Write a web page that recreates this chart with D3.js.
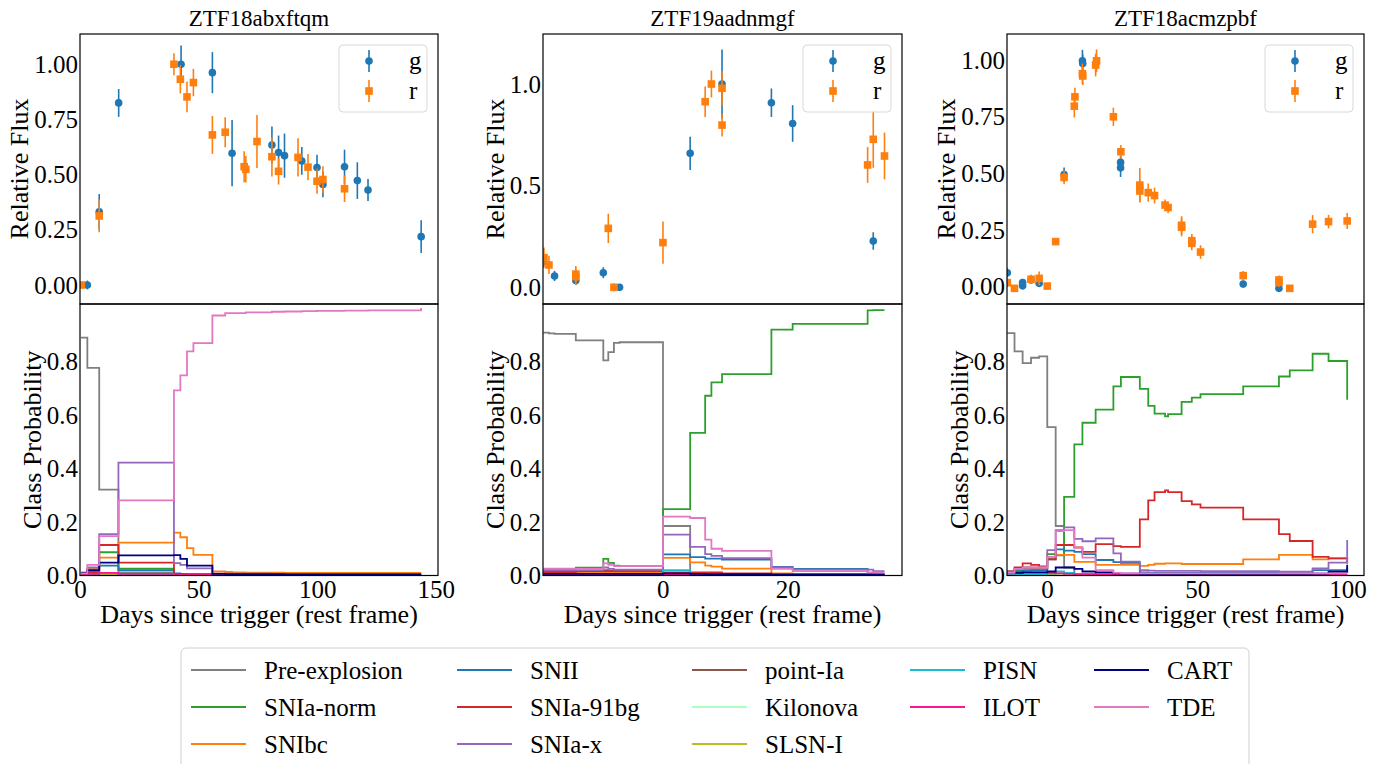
<!DOCTYPE html>
<html><head><meta charset="utf-8">
<script src="https://cdn.jsdelivr.net/npm/d3@7"></script>
<style>body{margin:0;background:#fff} svg text{font-family:"Liberation Serif","DejaVu Serif",serif;}</style>
</head><body><svg id="c" width="1384" height="764"></svg>
<script>
const classNames = ["Pre-explosion","SNIa-norm","SNIbc","SNII","SNIa-91bg","SNIa-x","point-Ia","Kilonova","SLSN-I","PISN","ILOT","CART","TDE"];
const classColors = ["#7f7f7f","#2ca02c","#ff7f0e","#1f77b4","#d62728","#9467bd","#8c564b","#aaffc3","#bcbd22","#17becf","#ff1493","#000080","#e377c2"];
const titles = ["ZTF18abxftqm","ZTF19aadnmgf","ZTF18acmzpbf"];
const fluxTicks = [[0,0.25,0.5,0.75,1],[0,0.5,1],[0,0.25,0.5,0.75,1]];
const probTicks = [0,0.2,0.4,0.6,0.8];
const dayTicks = [[0,50,100,150],[0,20],[0,50,100]];

// ---- Panel 1: ZTF18abxftqm light curve ----
const p1gDays = [3.1,8.1,16.3,42.6,55.8,64.1,80.9,83.7,86.2,93.5,99.9,102.4,111.5,116.9,121.4,143.8];
const p1gFlux = [0.0,0.332,0.825,1.0,0.962,0.597,0.634,0.600,0.586,0.562,0.532,0.455,0.536,0.473,0.430,0.219];
const p1gErr  = [0.02,0.08,0.063,0.085,0.093,0.15,0.084,0.077,0.10,0.063,0.058,0.058,0.077,0.083,0.05,0.074];
const p1rDays = [0.6,8.1,39.6,42.3,45.1,47.8,55.8,61.2,69.2,69.9,74.6,80.9,83.7,91.9,96.1,99.9,102.4,111.5];
const p1rFlux = [0.0,0.313,1.0,0.932,0.852,0.917,0.68,0.692,0.536,0.524,0.65,0.581,0.515,0.578,0.534,0.47,0.478,0.436];
const p1rErr  = [0.01,0.074,0.05,0.064,0.07,0.062,0.086,0.068,0.07,0.06,0.12,0.09,0.06,0.087,0.06,0.057,0.06,0.06];

// ---- Panel 2: ZTF19aadnmgf light curve ----
const p2gDays = [-19.1,-17.3,-13.9,-9.5,-6.9,4.4,9.5,17.4,20.8,33.7];
const p2gFlux = [0.126,0.056,0.033,0.072,0.0,0.659,1.0,0.908,0.806,0.228];
const p2gErr  = [0.03,0.025,0.02,0.027,0.01,0.082,0.17,0.07,0.09,0.043];
const p2rDays = [-19.0,-18.2,-13.9,-13.9,-8.7,-7.8,0.05,6.8,7.8,9.5,9.5,32.8,33.7,35.5];
const p2rFlux = [0.146,0.11,0.052,0.065,0.29,0.0,0.22,0.913,1.0,0.979,0.798,0.602,0.728,0.646];
const p2rErr  = [0.05,0.045,0.04,0.04,0.072,0.02,0.104,0.075,0.066,0.085,0.056,0.088,0.14,0.115];

// ---- Panel 3: ZTF18acmzpbf light curve ----
const p3gDays = [-13.2,-8.1,-8.1,-5.3,-2.6,5.7,11.8,11.9,24.5,24.5,65.3,77.2];
const p3gFlux = [0.063,0.005,0.02,0.031,0.016,0.495,0.997,0.985,0.549,0.525,0.013,-0.006];
const p3gErr  = [0.02,0.015,0.015,0.015,0.015,0.032,0.048,0.04,0.03,0.04,0.015,0.015];
const p3rDays = [-13.2,-10.8,-5.3,-2.6,0.1,2.9,5.7,9.1,9.3,11.8,11.9,16.2,16.5,22.1,24.6,30.9,30.9,33.7,35.8,39.3,40.3,44.8,44.8,48.2,48.2,51.1,65.3,77.2,77.2,80.8,88.4,93.7,99.9];
const p3rFlux = [0.019,-0.006,0.034,0.038,0.004,0.2,0.483,0.797,0.838,0.94,0.93,0.978,0.997,0.75,0.596,0.449,0.423,0.416,0.403,0.361,0.35,0.263,0.272,0.192,0.204,0.154,0.05,0.031,0.02,-0.006,0.277,0.288,0.291];
const p3rErr  = [0.02,0.01,0.02,0.03,0.01,0.015,0.03,0.05,0.04,0.045,0.04,0.05,0.05,0.04,0.03,0.075,0.05,0.04,0.035,0.025,0.025,0.04,0.04,0.03,0.03,0.03,0.02,0.02,0.02,0.01,0.04,0.03,0.035];

// ---- Class probabilities (step curves) ----
const p1Times = [0.4,3.1,8.1,16.2,39.6,42.3,45.1,47.8,55.8,61.2,64.1,69.9,74.6,80.9,86.2,93.5,99.9,111.5,121.4,143.8];
const p1Prob = {
  "Pre-explosion":[0.889,0.776,0.321,0.012,0.004,0.003,0.003,0.003,0.002,0.002,0.002,0.002,0.002,0.002,0.002,0.002,0.002,0.002,0.002,0.002],
  "SNIa-norm":[0.008,0.015,0.087,0.026,0.004,0.003,0.003,0.003,0.002,0.002,0.002,0.002,0.002,0.002,0.002,0.002,0.002,0.002,0.002,0.002],
  "SNIbc":[0.012,0.025,0.067,0.123,0.16,0.143,0.102,0.077,0.015,0.013,0.012,0.011,0.011,0.011,0.01,0.01,0.01,0.01,0.01,0.01],
  "SNII":[0.01,0.015,0.037,0.02,0.008,0.006,0.005,0.005,0.004,0.004,0.004,0.004,0.004,0.004,0.004,0.004,0.004,0.004,0.004,0.004],
  "SNIa-91bg":[0.005,0.012,0.114,0.048,0.005,0.004,0.004,0.004,0.003,0.003,0.003,0.003,0.003,0.003,0.003,0.003,0.003,0.003,0.003,0.003],
  "SNIa-x":[0.01,0.03,0.155,0.422,0.046,0.04,0.027,0.027,0.007,0.007,0.007,0.007,0.007,0.006,0.006,0.006,0.006,0.006,0.006,0.006],
  "point-Ia":[0.003,0.003,0.004,0.003,0.001,0.001,0.001,0.001,0.001,0.001,0.001,0.001,0.001,0.001,0.001,0.001,0.001,0.001,0.001,0.001],
  "Kilonova":[0.002,0.002,0.002,0.002,0.001,0.001,0.001,0.001,0.001,0.001,0.001,0.001,0.001,0.001,0.001,0.001,0.001,0.001,0.001,0.001],
  "SLSN-I":[0.002,0.002,0.003,0.002,0.001,0.001,0.001,0.001,0.001,0.001,0.001,0.001,0.001,0.001,0.001,0.001,0.001,0.001,0.001,0.001],
  "PISN":[0.004,0.005,0.01,0.005,0.002,0.002,0.002,0.002,0.002,0.002,0.002,0.002,0.002,0.002,0.002,0.002,0.002,0.002,0.002,0.002],
  "ILOT":[0.004,0.006,0.01,0.006,0.002,0.002,0.002,0.002,0.002,0.002,0.002,0.002,0.002,0.002,0.002,0.002,0.002,0.002,0.002,0.002],
  "CART":[0.01,0.02,0.048,0.075,0.076,0.062,0.037,0.037,0.006,0.005,0.005,0.005,0.005,0.005,0.004,0.004,0.004,0.004,0.004,0.004],
  "TDE":[0.008,0.04,0.147,0.281,0.692,0.748,0.838,0.869,0.972,0.981,0.981,0.984,0.984,0.986,0.987,0.988,0.989,0.99,0.991,1.0]
};
const p2Times = [-19.1,-18.2,-17.3,-13.9,-9.5,-8.7,-7.8,-6.9,0.05,4.4,6.8,7.8,9.5,17.4,20.8,32.8,33.7,35.5];
const p2Prob = {
  "Pre-explosion":[0.908,0.905,0.903,0.879,0.804,0.835,0.87,0.872,0.185,0.003,0.002,0.002,0.002,0.001,0.001,0.001,0.001,0.001],
  "SNIa-norm":[0.02,0.02,0.02,0.029,0.062,0.047,0.037,0.035,0.248,0.533,0.672,0.722,0.753,0.919,0.941,0.991,0.992,0.992],
  "SNIbc":[0.01,0.01,0.01,0.012,0.012,0.012,0.012,0.012,0.066,0.049,0.037,0.033,0.026,0.008,0.006,0.004,0.004,0.004],
  "SNII":[0.015,0.015,0.015,0.016,0.02,0.018,0.017,0.016,0.079,0.069,0.063,0.063,0.059,0.032,0.025,0.006,0.005,0.005],
  "SNIa-91bg":[0.012,0.012,0.012,0.016,0.016,0.016,0.016,0.016,0.012,0.012,0.012,0.012,0.008,0.006,0.005,0.004,0.004,0.004],
  "SNIa-x":[0.02,0.02,0.02,0.02,0.03,0.025,0.022,0.022,0.153,0.107,0.08,0.073,0.065,0.03,0.022,0.022,0.016,0.016],
  "point-Ia":[0.003,0.003,0.003,0.003,0.003,0.003,0.003,0.003,0.003,0.002,0.002,0.002,0.002,0.001,0.001,0.001,0.001,0.001],
  "Kilonova":[0.002,0.002,0.002,0.002,0.002,0.002,0.002,0.002,0.002,0.001,0.001,0.001,0.001,0.001,0.001,0.001,0.001,0.001],
  "SLSN-I":[0.002,0.002,0.002,0.002,0.002,0.002,0.002,0.002,0.003,0.002,0.002,0.002,0.002,0.001,0.001,0.001,0.001,0.001],
  "PISN":[0.005,0.005,0.005,0.005,0.005,0.005,0.005,0.005,0.02,0.005,0.004,0.004,0.004,0.003,0.003,0.003,0.003,0.003],
  "ILOT":[0.004,0.004,0.004,0.004,0.004,0.004,0.004,0.004,0.005,0.004,0.003,0.003,0.003,0.002,0.002,0.002,0.002,0.002],
  "CART":[0.006,0.006,0.006,0.006,0.006,0.006,0.006,0.006,0.008,0.006,0.005,0.005,0.005,0.003,0.003,0.003,0.003,0.003],
  "TDE":[0.026,0.026,0.026,0.025,0.045,0.04,0.035,0.035,0.22,0.215,0.134,0.1,0.092,0.025,0.016,0.012,0.012,0.012]
};
const p3Times = [-13.2,-10.8,-8.1,-5.3,-2.6,0.1,2.9,5.7,9.1,11.8,16.2,22.1,24.6,30.9,33.7,35.8,39.3,40.3,44.8,48.2,51.1,65.3,77.2,80.8,88.4,93.7,99.9];
const p3Prob = {
  "Pre-explosion":[0.906,0.838,0.794,0.814,0.819,0.555,0.185,0.03,0.005,0.004,0.003,0.003,0.003,0.002,0.002,0.002,0.002,0.002,0.002,0.002,0.002,0.002,0.002,0.002,0.002,0.002,0.002],
  "SNIa-norm":[0.015,0.02,0.025,0.025,0.025,0.08,0.075,0.294,0.49,0.571,0.62,0.707,0.742,0.698,0.634,0.605,0.595,0.603,0.649,0.665,0.678,0.707,0.744,0.767,0.829,0.802,0.657],
  "SNIbc":[0.015,0.025,0.03,0.025,0.025,0.064,0.077,0.077,0.051,0.051,0.04,0.04,0.04,0.036,0.04,0.044,0.045,0.045,0.043,0.043,0.043,0.06,0.077,0.077,0.06,0.064,0.067],
  "SNII":[0.01,0.015,0.018,0.02,0.02,0.06,0.098,0.093,0.088,0.08,0.058,0.05,0.047,0.012,0.01,0.01,0.01,0.01,0.01,0.01,0.01,0.01,0.01,0.012,0.02,0.02,0.03],
  "SNIa-91bg":[0.015,0.03,0.045,0.04,0.034,0.06,0.114,0.114,0.105,0.088,0.117,0.11,0.107,0.21,0.281,0.312,0.318,0.312,0.278,0.266,0.254,0.21,0.155,0.129,0.07,0.064,0.045],
  "SNIa-x":[0.015,0.025,0.03,0.03,0.03,0.095,0.17,0.18,0.137,0.128,0.139,0.083,0.052,0.02,0.018,0.017,0.017,0.017,0.017,0.017,0.016,0.016,0.014,0.014,0.027,0.048,0.133],
  "point-Ia":[0.003,0.003,0.003,0.003,0.003,0.004,0.005,0.004,0.003,0.003,0.002,0.002,0.002,0.002,0.002,0.002,0.002,0.002,0.002,0.002,0.002,0.002,0.002,0.002,0.002,0.002,0.002],
  "Kilonova":[0.002,0.002,0.002,0.002,0.002,0.002,0.003,0.002,0.002,0.002,0.001,0.001,0.001,0.001,0.001,0.001,0.001,0.001,0.001,0.001,0.001,0.001,0.001,0.001,0.001,0.001,0.001],
  "SLSN-I":[0.002,0.002,0.002,0.002,0.002,0.004,0.008,0.01,0.005,0.004,0.003,0.002,0.002,0.002,0.002,0.002,0.002,0.002,0.002,0.002,0.002,0.002,0.002,0.002,0.002,0.002,0.002],
  "PISN":[0.005,0.005,0.005,0.005,0.005,0.008,0.015,0.01,0.006,0.005,0.004,0.003,0.003,0.003,0.003,0.003,0.003,0.003,0.003,0.003,0.003,0.003,0.003,0.003,0.003,0.003,0.003],
  "ILOT":[0.008,0.01,0.012,0.012,0.012,0.01,0.008,0.006,0.004,0.004,0.003,0.003,0.003,0.002,0.002,0.002,0.002,0.002,0.002,0.002,0.002,0.002,0.002,0.002,0.002,0.002,0.002],
  "CART":[0.01,0.01,0.012,0.012,0.012,0.015,0.03,0.03,0.025,0.015,0.012,0.008,0.007,0.006,0.006,0.006,0.006,0.006,0.006,0.006,0.006,0.006,0.006,0.006,0.007,0.014,0.04],
  "TDE":[0.01,0.025,0.03,0.03,0.03,0.07,0.166,0.17,0.103,0.067,0.02,0.01,0.008,0.008,0.008,0.008,0.008,0.008,0.008,0.008,0.008,0.008,0.008,0.008,0.008,0.008,0.008]
};

const panels = [
  {g:[p1gDays,p1gFlux,p1gErr], r:[p1rDays,p1rFlux,p1rErr], t:p1Times, p:p1Prob},
  {g:[p2gDays,p2gFlux,p2gErr], r:[p2rDays,p2rFlux,p2rErr], t:p2Times, p:p2Prob},
  {g:[p3gDays,p3gFlux,p3gErr], r:[p3rDays,p3rFlux,p3rErr], t:p3Times, p:p3Prob}
];

// ---- layout ----
const FONT = "Liberation Serif";
const panelX = [[80,438],[543,902],[1007,1364]];
const topY = [34,304], botY = [304,575.5];
const xDomains = [[0,150.9],[-19.15,38.3],[-13.3,105.5]];
const fluxDomains = [[-0.086,1.137],[-0.082,1.246],[-0.075,1.115]];
const fluxFmt = [".2f",".1f",".2f"];
const gColor = "#1f77b4", rColor = "#ff7f0e";

const svg = d3.select("#c");
svg.append("rect").attr("width",1384).attr("height",764).attr("fill","#fff");
const defs = svg.append("defs");

function drawErr(g, x, y, days, flux, err, color, shape){
  const data = days.map((d,i)=>({d, f:flux[i], e:err[i]}));
  g.selectAll(null).data(data).enter().append("line")
    .attr("x1",p=>x(p.d)).attr("x2",p=>x(p.d))
    .attr("y1",p=>y(p.f-p.e)).attr("y2",p=>y(p.f+p.e))
    .attr("stroke",color).attr("stroke-width",1.6);
  if(shape==="circle"){
    g.selectAll(null).data(data).enter().append("circle")
      .attr("cx",p=>x(p.d)).attr("cy",p=>y(p.f)).attr("r",3.8).attr("fill",color);
  } else {
    const s=7.6;
    g.selectAll(null).data(data).enter().append("rect")
      .attr("x",p=>x(p.d)-s/2).attr("y",p=>y(p.f)-s/2).attr("width",s).attr("height",s).attr("fill",color);
  }
}

function styleAxis(ax){
  ax.attr("font-family",FONT).attr("font-size",25);
  ax.select(".domain").remove();
  ax.selectAll("text").attr("fill","#000");
}

panels.forEach((P,i)=>{
  const [x0,x1] = panelX[i];
  const x = d3.scaleLinear().domain(xDomains[i]).range([x0,x1]);
  const yF = d3.scaleLinear().domain(fluxDomains[i]).range([topY[1],topY[0]]);
  const yP = d3.scaleLinear().domain([0,1.015]).range([botY[1],botY[0]]);

  defs.append("clipPath").attr("id","ct"+i).append("rect")
    .attr("x",x0).attr("y",topY[0]).attr("width",x1-x0).attr("height",topY[1]-topY[0]);
  defs.append("clipPath").attr("id","cb"+i).append("rect")
    .attr("x",x0).attr("y",botY[0]).attr("width",x1-x0).attr("height",botY[1]-botY[0]);

  // title
  svg.append("text").attr("x",(x0+x1)/2).attr("y",26).attr("text-anchor","middle")
    .attr("font-size",23).text(titles[i]);

  // top panel
  const gt = svg.append("g").attr("clip-path",`url(#ct${i})`);
  drawErr(gt, x, yF, P.g[0], P.g[1], P.g[2], gColor, "circle");
  drawErr(gt, x, yF, P.r[0], P.r[1], P.r[2], rColor, "square");

  const ayT = svg.append("g").attr("transform",`translate(${x0},0)`)
    .call(d3.axisLeft(yF).tickValues(fluxTicks[i]).tickFormat(d3.format(fluxFmt[i])).tickSize(0).tickPadding(2));
  styleAxis(ayT);
  const bbT = ayT.node().getBBox();
  svg.append("text").attr("transform",`translate(${x0+bbT.x-6},${(topY[0]+topY[1])/2}) rotate(-90)`)
    .attr("text-anchor","middle").attr("font-size",26).text("Relative Flux");

  // legend inside top panel
  const lx = x1-11-88, ly = 45;
  svg.append("rect").attr("x",lx).attr("y",ly).attr("width",88).attr("height",67).attr("rx",4)
    .attr("fill","#fff").attr("fill-opacity",0.8).attr("stroke","#d8d8d8").attr("stroke-width",1);
  [[gColor,"g",61,"circle"],[rColor,"r",91,"square"]].forEach(([c,lab,cy,sh])=>{
    svg.append("line").attr("x1",lx+30).attr("x2",lx+30).attr("y1",cy-11).attr("y2",cy+11)
      .attr("stroke",c).attr("stroke-width",1.6);
    if(sh==="circle") svg.append("circle").attr("cx",lx+30).attr("cy",cy).attr("r",3.8).attr("fill",c);
    else svg.append("rect").attr("x",lx+30-3.8).attr("y",cy-3.8).attr("width",7.6).attr("height",7.6).attr("fill",c);
    svg.append("text").attr("x",lx+70).attr("y",cy+7.5).attr("font-size",25).text(lab);
  });

  // bottom panel: step curves
  const gb = svg.append("g").attr("clip-path",`url(#cb${i})`);
  const line = d3.line().curve(d3.curveStepAfter).x(d=>x(d[0])).y(d=>yP(d[1]));
  classNames.forEach((cn,k)=>{
    const vals = P.p[cn];
    const pts = P.t.map((t,j)=>[t, vals[j]]);
    gb.append("path").attr("d",line(pts)).attr("fill","none")
      .attr("stroke",classColors[k]).attr("stroke-width",1.8);
  });

  const ayB = svg.append("g").attr("transform",`translate(${x0},0)`)
    .call(d3.axisLeft(yP).tickValues(probTicks).tickFormat(d3.format(".1f")).tickSize(0).tickPadding(2));
  styleAxis(ayB);
  const bbB = ayB.node().getBBox();
  svg.append("text").attr("transform",`translate(${x0+bbB.x-6},${(botY[0]+botY[1])/2}) rotate(-90)`)
    .attr("text-anchor","middle").attr("font-size",26).text("Class Probability");

  const axB = svg.append("g").attr("transform",`translate(0,${botY[1]})`)
    .call(d3.axisBottom(x).tickValues(dayTicks[i]).tickFormat(d3.format("d")).tickSize(0).tickPadding(5));
  styleAxis(axB);
  svg.append("text").attr("x",(x0+x1)/2).attr("y",623).attr("text-anchor","middle")
    .attr("font-size",26).text("Days since trigger (rest frame)");

  // frames
  svg.append("rect").attr("x",x0).attr("y",topY[0]).attr("width",x1-x0).attr("height",topY[1]-topY[0])
    .attr("fill","none").attr("stroke","#000").attr("stroke-width",1.2);
  svg.append("rect").attr("x",x0).attr("y",botY[0]).attr("width",x1-x0).attr("height",botY[1]-botY[0])
    .attr("fill","none").attr("stroke","#000").attr("stroke-width",1.2);
});

// ---- bottom legend ----
svg.append("rect").attr("x",181).attr("y",648).attr("width",1068).attr("height",140).attr("rx",5)
  .attr("fill","#fff").attr("stroke","#d0d0d0").attr("stroke-width",1);
const colStarts = [191,457,692,910,1094];
const rowY = [670,707,744];
const colSizes = [3,3,3,2,2];
let idx = 0;
colSizes.forEach((n,c)=>{
  for(let r=0;r<n;r++){
    const k = idx++;
    svg.append("line").attr("x1",colStarts[c]).attr("x2",colStarts[c]+55)
      .attr("y1",rowY[r]).attr("y2",rowY[r]).attr("stroke",classColors[k]).attr("stroke-width",2);
    svg.append("text").attr("x",colStarts[c]+73).attr("y",rowY[r]+8.5)
      .attr("font-size",25).text(classNames[k]);
  }
});
</script></body></html>
